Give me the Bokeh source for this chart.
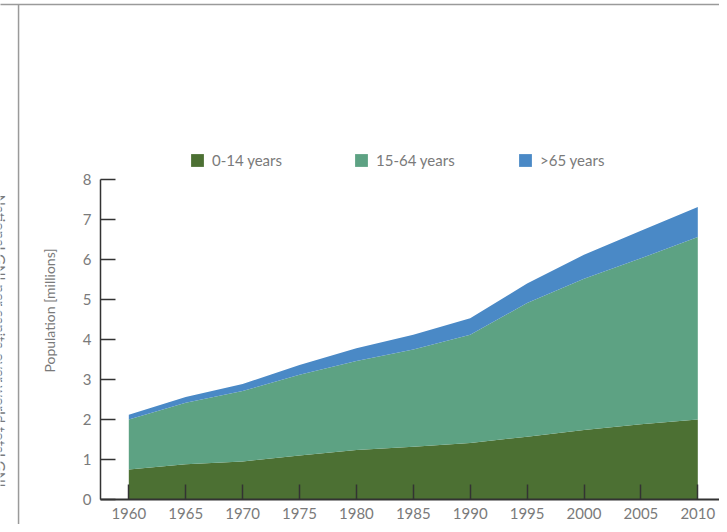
import math
from bokeh.plotting import figure
from bokeh.models import ColumnDataSource, Legend, LegendItem, Label, BoxAnnotation
from bokeh.embed import file_html
from bokeh.resources import INLINE

# ---- data ----
years = [1960, 1965, 1970, 1975, 1980, 1985, 1990, 1995, 2000, 2005, 2010]
age_0_14 = [0.75, 0.88, 0.95, 1.10, 1.24, 1.32, 1.41, 1.57, 1.74, 1.88, 2.00]
age_15_64 = [1.25, 1.54, 1.76, 2.02, 2.22, 2.43, 2.71, 3.34, 3.78, 4.15, 4.56]
age_65 = [0.12, 0.14, 0.18, 0.24, 0.32, 0.37, 0.41, 0.49, 0.60, 0.69, 0.75]
series_names = ["0-14 years", "15-64 years", ">65 years"]
colors = ["#4C7033", "#5DA283", "#4A89C6"]
y_ticks = [0, 1, 2, 3, 4, 5, 6, 7, 8]
y_label = "Population [millions]"
side_text = "National GNI per capita over world total GNI"

FONT = "Lato"
TXT = "#7a7a7a"
AX = "#333333"
FRAME = "#9a9a9a"

source = ColumnDataSource(dict(year=years, a=age_0_14, b=age_15_64, c=age_65))

W, H = 719, 524
PPY = 11.38   # px per year
PPU = 40.0    # px per million
x_start = 1960 - 128.3 / PPY
x_end = x_start + W / PPY
y_end = 499 / PPU
y_start = y_end - H / PPU

def wx(px):
    return x_start + px / PPY
def wy(py):
    return (499 - py) / PPU

p = figure(width=W, height=H, output_backend="svg", toolbar_location=None,
           x_range=(x_start, x_end), y_range=(y_start, y_end),
           min_border=0, min_border_left=0, min_border_right=0,
           min_border_top=0, min_border_bottom=0)
p.outline_line_color = None
p.grid.visible = False
p.background_fill_color = "white"
p.border_fill_color = "white"

rs = p.varea_stack(["a", "b", "c"], x="year", color=colors, source=source)

# axes drawn at fixed positions inside the full-canvas frame
for ax in (p.xaxis, p.yaxis):
    ax.major_tick_in = 15
    ax.major_tick_out = 0
    ax.minor_tick_line_color = None
    ax.axis_line_color = AX
    ax.major_tick_line_color = AX
    ax.major_tick_line_width = 1.5
    ax.major_label_text_font = FONT
    ax.major_label_text_font_size = "15px"
    ax.major_label_text_color = TXT
p.xaxis.ticker = years
p.yaxis.ticker = y_ticks
p.xaxis.fixed_location = 0
p.yaxis.fixed_location = wx(100)
p.xaxis.bounds = (wx(100), x_end + 5)
p.yaxis.bounds = (0, 8)
p.xaxis.axis_line_width = 2
p.yaxis.axis_line_width = 1.5
p.xaxis.major_label_standoff = 8
p.yaxis.major_label_standoff = 9

# y axis title
p.add_layout(Label(x=wx(49), y=wy(310), text=y_label, angle=math.pi / 2,
                   text_align="center", text_baseline="middle",
                   text_font=FONT, text_font_size="14px", text_color=TXT))
# side text, cut at the page edge as in the reference
p.add_layout(Label(x=wx(-0.5), y=wy(194), text=side_text, angle=-math.pi / 2,
                   text_align="left", text_baseline="alphabetic",
                   text_font=FONT, text_font_size="15px", text_color=TXT))

# frame lines
p.add_layout(BoxAnnotation(left=wx(-20), right=wx(760), bottom=wy(4.7), top=wy(3.2),
                           fill_color=FRAME, fill_alpha=1, line_color=None, level="overlay"))
p.add_layout(BoxAnnotation(left=wx(17.3), right=wx(18.8), bottom=wy(560), top=wy(4),
                           fill_color=FRAME, fill_alpha=1, line_color=None, level="overlay"))

legend = Legend(items=[LegendItem(label=n, renderers=[r]) for n, r in zip(series_names, rs)],
                orientation="horizontal", location=(189, H - 169),
                glyph_width=16, glyph_height=16, label_height=16, label_width=141,
                label_standoff=7, spacing=0, padding=0, margin=0,
                border_line_color=None, background_fill_alpha=0,
                label_text_font=FONT, label_text_font_size="15px", label_text_color=TXT)
p.add_layout(legend)

open("out.html", "w").write(file_html(p, INLINE))
